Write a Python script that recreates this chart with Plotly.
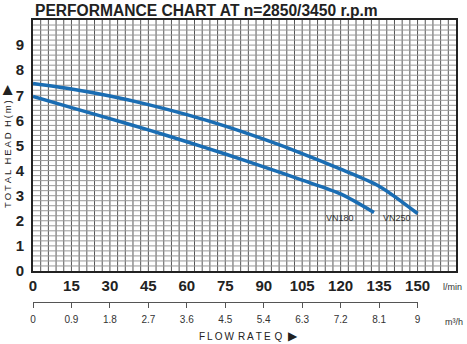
import plotly.graph_objects as go

# Data (flow in l/min, head in m)
q_vn250 = [0, 15, 30, 45, 60, 75, 90, 105, 120, 135, 150]
h_vn250 = [7.47, 7.25, 6.97, 6.63, 6.23, 5.77, 5.25, 4.68, 4.06, 3.38, 2.29]
q_vn180 = [0, 15, 30, 45, 60, 75, 90, 105, 120, 133]
h_vn180 = [6.95, 6.51, 6.07, 5.62, 5.15, 4.66, 4.15, 3.62, 3.07, 2.33]

lpm_ticks = [0, 15, 30, 45, 60, 75, 90, 105, 120, 135, 150]
m3h_ticks = [0, 0.9, 1.8, 2.7, 3.6, 4.5, 5.4, 6.3, 7.2, 8.1, 9]
m3h_labels = ["0", "0.9", "1.8", "2.7", "3.6", "4.5", "5.4", "6.3", "7.2", "8.1", "9"]
head_ticks = [0, 1, 2, 3, 4, 5, 6, 7, 8, 9]

BLUE = "#1a6db3"
FONT = "Liberation Sans, Arial, sans-serif"

fig = go.Figure()
fig.add_trace(go.Scatter(x=q_vn250, y=h_vn250, mode="lines",
                         line=dict(color=BLUE, width=3.5, shape="spline", smoothing=0.8),
                         showlegend=False, hoverinfo="skip"))
fig.add_trace(go.Scatter(x=q_vn180, y=h_vn180, mode="lines",
                         line=dict(color=BLUE, width=3.5, shape="spline", smoothing=0.8),
                         showlegend=False, hoverinfo="skip"))
# invisible trace for the m3/h axis
fig.add_trace(go.Scatter(x=[0, 9], y=[None, None], xaxis="x2", yaxis="y", mode="lines", showlegend=False,
                         hoverinfo="skip"))

fig.update_layout(
    width=467, height=344, autosize=False,
    margin=dict(l=33, r=11, t=20, b=42, autoexpand=False),
    paper_bgcolor="white", plot_bgcolor="rgba(0,0,0,0)",
    font=dict(family=FONT, color="#222"),
    xaxis=dict(range=[0, 165], domain=[0, 1], anchor="y",
               tickvals=lpm_ticks, ticktext=["<b>%d</b>" % v for v in lpm_ticks],
               tickfont=dict(size=15, color="#222"),
               showgrid=False, zeroline=False, automargin=False,
               showline=True, linecolor="#222", linewidth=2, mirror=True,
               ticks="", fixedrange=True),
    yaxis=dict(range=[0, 10], domain=[0.11, 1], anchor="x",
               tickvals=head_ticks, ticktext=["<b>%d</b>" % v for v in head_ticks],
               tickfont=dict(size=15, color="#222"),
               showgrid=False, zeroline=False, automargin=False,
               showline=True, linecolor="#222", linewidth=2, mirror=True,
               ticks="", ticklabelstandoff=4, fixedrange=True),
    xaxis2=dict(range=[0, 9], domain=[0, 150 / 165], anchor="free", position=0,
                tickvals=m3h_ticks, ticktext=m3h_labels, tickfont=dict(size=10, color="#333"),
                showline=True, linecolor="#555", linewidth=1, ticks="outside", ticklen=5,
                tickcolor="#555", showgrid=False, zeroline=False, fixedrange=True, automargin=False,
                ticklabelstandoff=3),
)

# grid lines: vertical every 3 l/min, horizontal every 0.2 m
shapes = []
for i in range(1, 55):
    shapes.append(dict(type="line", xref="x", yref="y domain", x0=i * 3, x1=i * 3, y0=0, y1=1,
                       line=dict(color="#555", width=1), layer="below"))
for i in range(1, 50):
    shapes.append(dict(type="line", xref="x domain", yref="y", x0=0, x1=1, y0=i * 0.2, y1=i * 0.2,
                       line=dict(color="#999", width=1), layer="below"))
fig.update_layout(shapes=shapes)

sp = "\u2009"
ann = [
    dict(text="<b>PERFORMANCE CHART AT n=2850/3450 r.p.m</b>", xref="paper", yref="paper",
         x=0, y=1, yshift=20, xanchor="left", yanchor="top", showarrow=False,
         font=dict(size=15.6, color="#222")),
    dict(text="VN180", xref="x", yref="y", x=119.6, y=2.12, xanchor="center", yanchor="middle", showarrow=False,
         font=dict(size=9, color="#333")),
    dict(text="VN250", xref="x", yref="y", x=142, y=2.12, xanchor="center", yanchor="middle", showarrow=False,
         font=dict(size=9, color="#333")),
    dict(text="l/min", xref="paper", yref="paper", x=1, xshift=8, y=0.11, yshift=-16,
         xanchor="right", yanchor="middle", showarrow=False, font=dict(size=9, color="#333")),
    dict(text="m\u00b3/h", xref="paper", yref="paper", x=1, xshift=9, y=0, yshift=-20,
         xanchor="right", yanchor="middle", showarrow=False, font=dict(size=9, color="#333")),
    dict(text=sp.join("FLOW") + sp * 2 + sp.join("RATE") + sp * 2 + "Q  <span style='font-size:12px'>\u25B6</span>",
         xref="paper", yref="paper",
         x=0.51, y=0, yshift=-34, xanchor="center", yanchor="middle", showarrow=False,
         font=dict(size=10, color="#222")),
    dict(text=sp.join("TOTAL") + "\u00a0\u00a0" + sp.join("HEAD") + "\u00a0\u00a0" + sp.join("H(m)")
         + "  <span style='font-size:13px'>\u25B6</span>",
         xref="paper", yref="paper", x=0, xshift=-26, y=0.55, xanchor="center", yanchor="middle",
         textangle=-90, showarrow=False, font=dict(size=9.5, color="#222")),
]
fig.update_layout(annotations=ann)

fig.write_html("out.html")
